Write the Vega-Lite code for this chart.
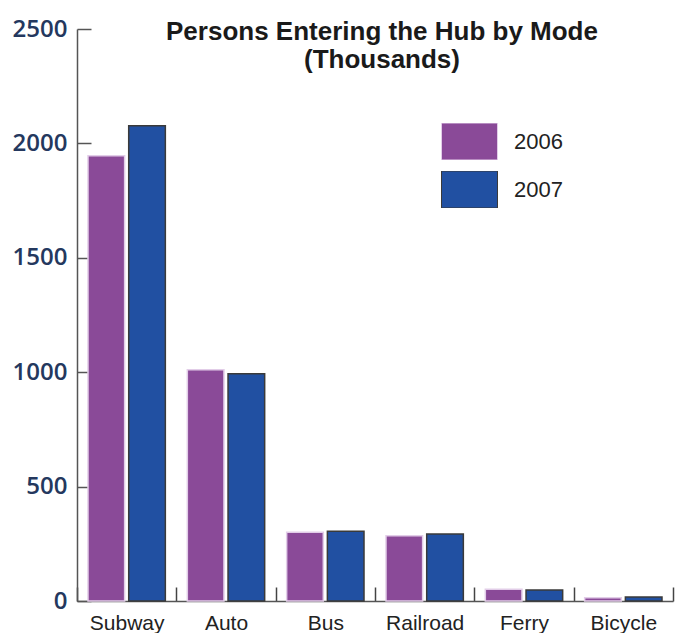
{
  "$schema": "https://vega.github.io/schema/vega-lite/v6.json",
  "width": 596,
  "height": 572,
  "autosize": {"type": "none"},
  "padding": {"left": 77, "top": 29, "right": 2, "bottom": 32},
  "background": "white",
  "title": {
    "text": ["Persons Entering the Hub by Mode", "(Thousands)"],
    "font": "Liberation Sans",
    "fontSize": 26,
    "fontWeight": "bold",
    "color": "#1a1a1a",
    "lineHeight": 28,
    "anchor": "middle",
    "dx": 7,
    "dy": 60
  },
  "data": {
    "values": [
      {"mode": "Subway", "year": "2006", "value": 1946},
      {"mode": "Subway", "year": "2007", "value": 2077},
      {"mode": "Auto", "year": "2006", "value": 1011},
      {"mode": "Auto", "year": "2007", "value": 993},
      {"mode": "Bus", "year": "2006", "value": 300},
      {"mode": "Bus", "year": "2007", "value": 305},
      {"mode": "Railroad", "year": "2006", "value": 285},
      {"mode": "Railroad", "year": "2007", "value": 293},
      {"mode": "Ferry", "year": "2006", "value": 51},
      {"mode": "Ferry", "year": "2007", "value": 48},
      {"mode": "Bicycle", "year": "2006", "value": 14},
      {"mode": "Bicycle", "year": "2007", "value": 17}
    ]
  },
  "mark": {"type": "bar", "strokeWidth": 1.5},
  "encoding": {
    "x": {
      "field": "mode",
      "type": "nominal",
      "sort": ["Subway", "Auto", "Bus", "Railroad", "Ferry", "Bicycle"],
      "scale": {"paddingInner": 0, "paddingOuter": 0},
      "axis": {
        "title": null,
        "labelAngle": 0,
        "tickBand": "extent",
        "tickSize": -14,
        "tickColor": "#444",
        "tickWidth": 1.5,
        "domainColor": "#555",
        "domainWidth": 1.5,
        "labelFont": "Liberation Sans",
        "labelFontSize": 21,
        "labelColor": "#222",
        "labelPadding": 25,
        "labelBaseline": "top"
      }
    },
    "xOffset": {
      "field": "year",
      "type": "nominal",
      "scale": {"paddingInner": 0.1, "paddingOuter": 0.27}
    },
    "y": {
      "field": "value",
      "type": "quantitative",
      "scale": {"domain": [0, 2500], "nice": false},
      "axis": {
        "title": null,
        "values": [0, 500, 1000, 1500, 2000, 2500],
        "format": "d",
        "grid": false,
        "tickSize": -14,
        "tickColor": "#555",
        "tickWidth": 1.5,
        "domainColor": "#555",
        "domainWidth": 1.5,
        "labelFont": "Open Sans",
        "labelFontWeight": 600,
        "labelFontSize": 24,
        "labelColor": "#24385e",
        "labelPadding": 24
      }
    },
    "fill": {
      "field": "year",
      "type": "nominal",
      "scale": {"domain": ["2006", "2007"], "range": ["#8a4a98", "#2150a2"]},
      "legend": {
        "title": null,
        "orient": "none",
        "legendX": 364,
        "legendY": 94,
        "symbolType": "M-1,-0.66L1,-0.66L1,0.66L-1,0.66Z",
        "symbolSize": 3136,
        "symbolStrokeColor": "#9a5aa8",
        "symbolStrokeWidth": 1,
        "symbolOpacity": 1,
        "labelFont": "Liberation Sans",
        "labelFontSize": 22,
        "labelColor": "#222",
        "labelOffset": 16,
        "clipHeight": 37,
        "rowPadding": 11
      }
    },
    "stroke": {
      "field": "year",
      "type": "nominal",
      "scale": {"domain": ["2006", "2007"], "range": ["#e2cde8", "#3a3a3a"]},
      "legend": null
    }
  },
  "config": {"view": {"stroke": null}}
}
